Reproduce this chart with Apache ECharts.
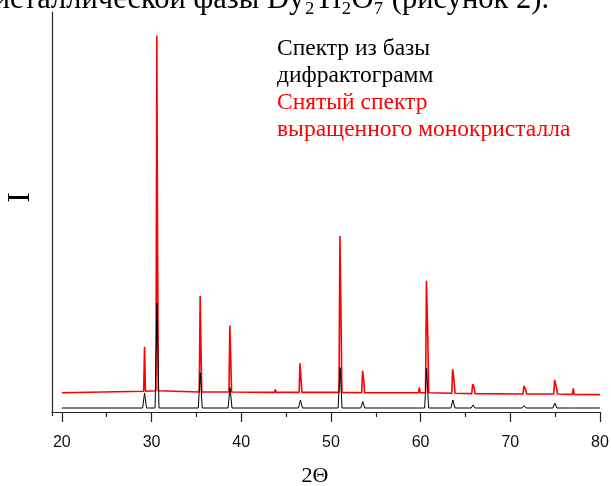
<!DOCTYPE html>
<html>
<head>
<meta charset="utf-8">
<script src="https://cdn.jsdelivr.net/npm/echarts@6.0.0/dist/echarts.min.js"></script>
<style>
  html, body { margin: 0; padding: 0; background: #fff; }
  #chart { width: 611px; height: 486px; }
</style>
</head>
<body>
<div id="chart"></div>
<script>
// Reference pattern (diffraction database), peak positions in 2Θ and heights
const dbAngle = [29.22, 30.61, 35.43, 38.75, 46.6, 51.02, 53.55, 59.9, 60.67, 63.6, 65.85, 71.55, 74.97, 77.05];
const dbPeak  = [4.7, 27.2, 9.8, 6.1, 3.0, 11.1, 2.6, 1.3, 10.9, 3.0, 1.75, 1.6, 2.2, 1.3];
const dbLevel = 1.0;

// Measured pattern of the grown single crystal
const scanAngle    = [29.22, 30.59, 35.42, 38.73, 43.8, 46.55, 51.0, 53.53, 59.85, 60.65, 63.57, 65.8, 71.52, 74.94, 77.02];
const scanPeak     = [16.3, 94.1, 29.0, 21.6, 5.6, 12.2, 44.0, 10.3, 6.1, 32.8, 10.7, 7.0, 6.5, 8.0, 5.9];
const scanShoulder = [null, 51.8, 17.2, 14.0, null, 8.5, 24.3, 7.8, null, 18.6, 7.8, 6.0, 5.5, 5.9, null];
const scanShift    = [0, 0.06, 0.08, 0.09, 0, 0.11, 0.12, 0.13, 0, 0.15, 0.16, 0.17, 0.2, 0.22, 0];
const scanFoot     = [5.2, 5.3, 5.0, 5.0, 4.9, 4.9, 4.9, 4.8, 4.8, 4.8, 4.7, 4.6, 4.5, 4.5, 4.4];
const scanStart = [20, 4.8];
const scanEnd   = [80, 4.35];

// Axis ticks
const majorTicks = [20, 30, 40, 50, 60, 70, 80];
const minorTicks = [25, 35, 45, 55, 65, 75];

// Polyline for the database pattern: narrow triangular peaks on a flat base
function dbLine() {
  const pts = [[20, dbLevel]];
  dbAngle.forEach((a, i) => {
    pts.push([a - 0.22, dbLevel], [a, dbPeak[i]], [a + 0.22, dbLevel]);
  });
  pts.push([80, dbLevel]);
  return pts;
}

// Polyline for the measured pattern: sharp Kα1 spike with Kα2 shoulder
function scanLine() {
  const pts = [scanStart];
  scanAngle.forEach((a, i) => {
    pts.push([a - 0.1, scanFoot[i]], [a, scanPeak[i]]);
    if (scanShoulder[i] !== null) {
      pts.push([a + scanShift[i], scanShoulder[i]]);
    }
    pts.push([a + scanShift[i] + 0.1, scanFoot[i]]);
  });
  pts.push(scanEnd);
  return pts;
}

const serif = '"Liberation Serif", "Times New Roman", serif';
const sans = '"Liberation Sans", Arial, sans-serif';

const chart = echarts.init(document.getElementById('chart'), null, { renderer: 'canvas' });

const xBase = {
  type: 'value',
  min: 18.9,
  max: 80,
  position: 'bottom',
  splitLine: { show: false }
};

chart.setOption({
  animation: false,
  backgroundColor: '#fff',
  grid: { left: 52, right: 11, top: 12, bottom: 74, containLabel: false, outerBoundsMode: 'none' },
  xAxis: [
    Object.assign({}, xBase, {
      name: '2Θ',
      nameLocation: 'middle',
      nameGap: 53,
      nameTextStyle: { fontFamily: serif, fontSize: 22, color: '#000', padding: [0, 22, 0, 0] },
      axisLine: { show: true, lineStyle: { color: '#222', width: 1.2 } },
      axisTick: { show: true, length: 10, inside: false, customValues: majorTicks, lineStyle: { color: '#222', width: 1.2 } },
      axisLabel: { show: true, customValues: majorTicks, margin: 23, fontFamily: sans, fontSize: 16, color: '#111' }
    }),
    Object.assign({}, xBase, {
      axisLine: { show: false },
      axisTick: { show: true, length: 5, customValues: minorTicks, lineStyle: { color: '#222', width: 1.2 } },
      axisLabel: { show: false }
    })
  ],
  yAxis: {
    type: 'value',
    min: 0,
    max: 100,
    name: 'I',
    nameLocation: 'middle',
    nameRotate: 90,
    nameGap: 15,
    nameTextStyle: { fontFamily: serif, fontSize: 32, color: '#000', padding: [0, 0, 0, 29] },
    axisLine: { show: true, lineStyle: { color: '#222', width: 1.2 } },
    axisTick: { show: false },
    axisLabel: { show: false },
    splitLine: { show: false }
  },
  series: [
    {
      name: 'Снятый спектр выращенного монокристалла',
      type: 'line',
      xAxisIndex: 0,
      data: scanLine(),
      showSymbol: false,
      lineStyle: { color: '#ff0000', width: 1.6 },
      z: 2
    },
    {
      name: 'Спектр из базы дифрактограмм',
      type: 'line',
      xAxisIndex: 0,
      data: dbLine(),
      showSymbol: false,
      lineStyle: { color: '#000', width: 1 },
      z: 3
    }
  ],
  graphic: [
    {
      type: 'text', x: 549, y: 0,
      style: { text: 'кристаллической фазы Dy₂Ti₂O₇ (рисунок 2).', font: '30.5px ' + serif, fill: '#000', align: 'right', verticalAlign: 'middle' }
    },
    { type: 'line', shape: { x1: 52.5, y1: 412, x2: 52.5, y2: 416 }, style: { stroke: '#222', lineWidth: 1.2 } },
    { type: 'text', x: 277, y: 49.3, style: { text: 'Спектр из базы', font: '23.5px ' + serif, fill: '#000', verticalAlign: 'middle' } },
    { type: 'text', x: 277, y: 76, style: { text: 'дифрактограмм', font: '23.5px ' + serif, fill: '#000', verticalAlign: 'middle' } },
    { type: 'text', x: 277, y: 102.7, style: { text: 'Снятый спектр', font: '23.5px ' + serif, fill: '#ff0000', verticalAlign: 'middle' } },
    { type: 'text', x: 277, y: 129.4, style: { text: 'выращенного монокристалла', font: '23.5px ' + serif, fill: '#ff0000', verticalAlign: 'middle' } }
  ]
});
</script>
</body>
</html>
